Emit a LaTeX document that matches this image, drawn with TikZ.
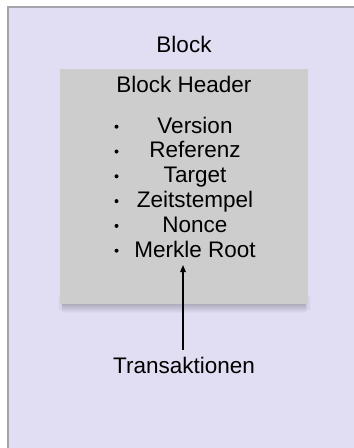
\documentclass[tikz,border=0pt]{standalone}
\usepackage{fontspec}
\setmainfont{Liberation Sans}
\usepackage{tikz}
\usetikzlibrary{arrows.meta, positioning}
\definecolor{blockbg}{RGB}{225, 221, 243}
\definecolor{headbg}{RGB}{205, 205, 205}
\definecolor{edgegray}{RGB}{165, 163, 172}

\tikzset{
  label text/.style={font=\fontsize{22.5}{27}\selectfont, anchor=base, inner sep=0pt},
  headbox/.style={fill=headbg, draw=none, minimum width=248pt, minimum height=235pt, inner sep=0pt},
  itemdot/.style={circle, fill=black, inner sep=0pt, minimum size=4pt},
}

\begin{document}
\begin{tikzpicture}[x=1pt, y=-1pt]
  \useasboundingbox (0,0) rectangle (354,448);
  % === outer block ===
  \fill[blockbg] (8,7) rectangle (354,448);
  \draw[edgegray, line width=1.2pt] (8,448) -- (8,7) -- (354,7);
  \node[label text] (block) at (184,52) {Block};

  % === header box, soft shadow under it ===
  \shade[top color=blockbg!78!black, bottom color=blockbg] (62,304) rectangle (306,313);
  \shade[left color=blockbg, right color=blockbg!85!black, opacity=0.5] (57,296) rectangle (62,309);
  \shade[right color=blockbg, left color=blockbg!85!black, opacity=0.5] (306,296) rectangle (311,309);
  \node[headbox] (header) at (184,186.5) {};
  \node[label text] (headtitle) at (184,92) {Block Header};
  \foreach \name/\txt [count=\i] in {ver/Version, ref/Referenz, tgt/Target,
      time/Zeitstempel, nonce/Nonce, root/Merkle Root} {
    \node[label text] (\name) at (195,{133+24.8*(\i-1)}) {\txt};
    \node[itemdot] (dot\i) at (116.5,{126.7+24.8*(\i-1)}) {};
  }

  % === transactions ===
  \node[label text] (trans) at (184,373) {Transaktionen};
  \coordinate (tip) at (183,265);
  \draw[line width=1.2pt, -{Triangle[length=7pt, width=5.5pt]}, shorten <=7pt]
    (trans.north -| tip) -- (tip);
\end{tikzpicture}
\end{document}
